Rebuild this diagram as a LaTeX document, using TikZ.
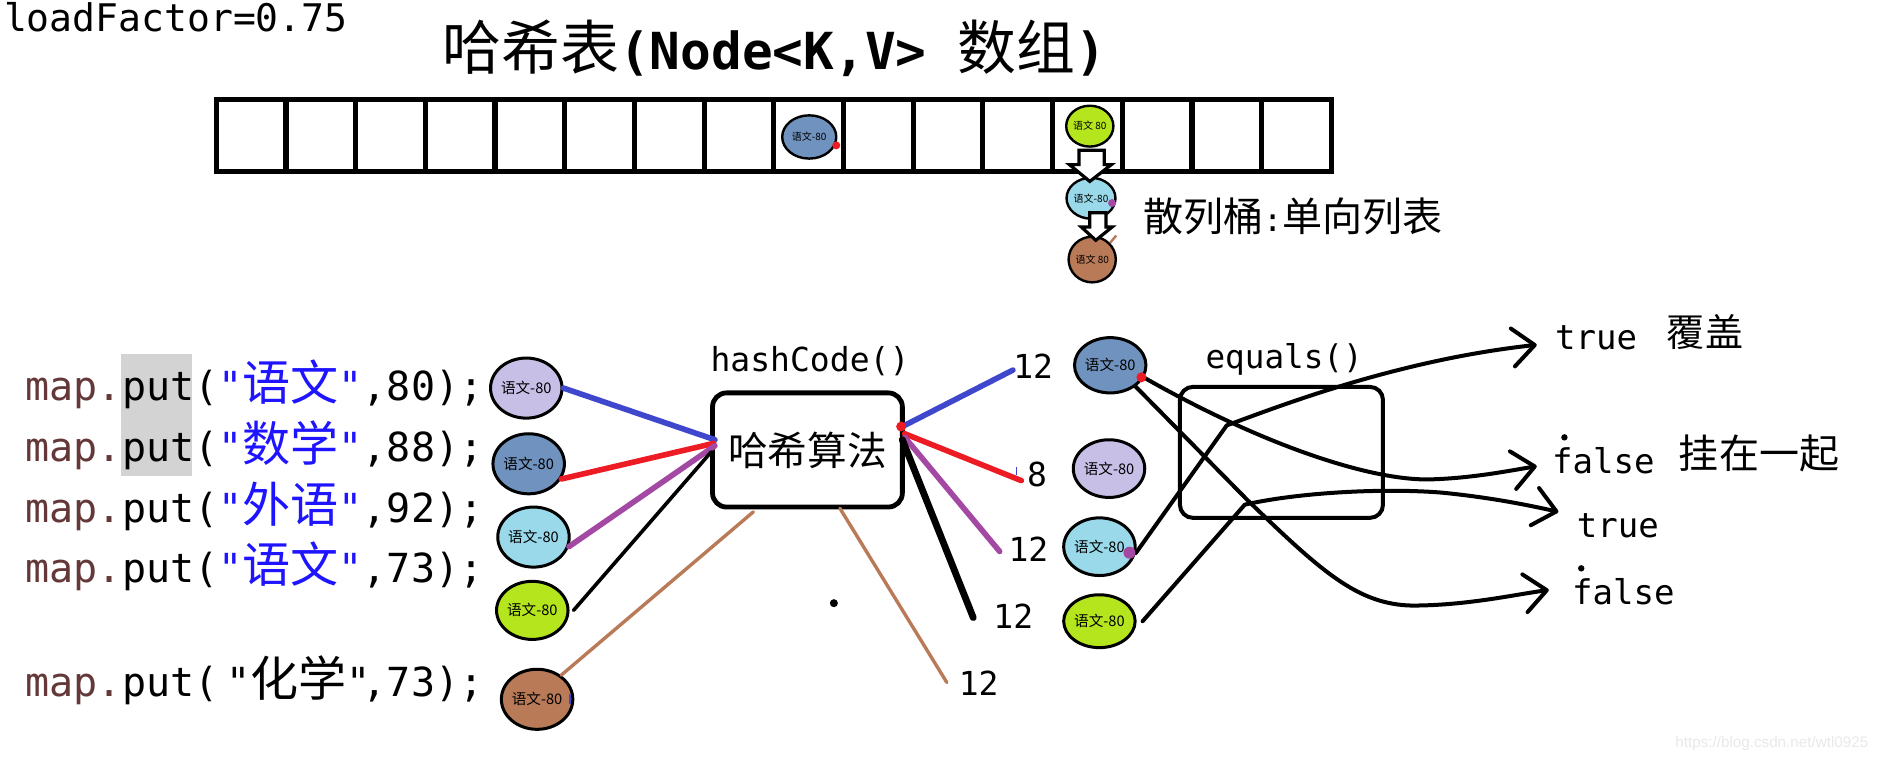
\documentclass[tikz,border=0pt]{standalone}
\usepackage{fontspec}
\usetikzlibrary{shapes.geometric,arrows.meta}
\newfontfamily\mono{DejaVu Sans Mono}
\newfontfamily\cjk{Noto Sans CJK SC}
\newfontfamily\wmfont{Liberation Sans}
\newcommand\setfs[1]{\fontsize{#1}{#1}\selectfont}
\definecolor{lav}{RGB}{200,191,231}
\definecolor{steel}{RGB}{112,146,190}
\definecolor{turq}{RGB}{153,217,234}
\definecolor{limeC}{RGB}{181,230,29}
\definecolor{brownC}{RGB}{185,122,87}
\definecolor{blueL}{RGB}{63,72,204}
\definecolor{redL}{RGB}{237,28,36}
\definecolor{purpleL}{RGB}{163,73,164}
\definecolor{mapc}{RGB}{100,56,56}
\definecolor{qblue}{RGB}{30,20,255}
\definecolor{hl}{RGB}{211,211,211}
\definecolor{wm}{RGB}{232,232,232}
\begin{document}
\begin{tikzpicture}[x=0.6pt,y=-0.6pt,
  txt/.style={inner sep=0pt, anchor=base west},
  ball/.style={ellipse, draw, line width=1.5pt, inner sep=0pt, font=\cjk\setfs{7.3}},
  sball/.style={ellipse, draw, line width=1.2pt, inner sep=0pt, font=\cjk\setfs{5}},
  cell/.style={draw, line width=2.6pt, minimum width=34.8pt, minimum height=36pt, inner sep=0pt},
  lk/.style={line cap=round},
  barrow/.style={line width=2pt, line cap=round, line join=round, -{Straight Barb[length=11pt,width=19pt,round]}},
  hollow/.style={draw, line width=1.6pt, fill=white, line join=miter}
]
\useasboundingbox (0,0) rectangle (1568,633);

% ---- top texts
\node[txt] (lf) at (3,26.4) {\mono\setfs{19}loadFactor=0.75};
\node[txt] (title) at (368,58) {{\cjk\setfs{29.4}哈希表}{\mono\bfseries\setfs{25.5}(Node<K,V> }{\cjk\setfs{29.4}数组}{\mono\bfseries\setfs{25.5})}};

% ---- array of 16 cells
\foreach \i in {0,...,15} {
  \node[cell] (a\i) at ({180+58*\i+29},113) {};
}
\node[sball, fill=steel, minimum width=27pt, minimum height=21.6pt] (t1) at (673.5,114) {语文-80};
\fill[redL] (696,121) circle[radius=2pt];

% ---- bucket
\node[sball, fill=limeC, minimum width=22.8pt, minimum height=20.4pt] (t2) at (907,105) {语文 80};
\node[sball, fill=turq, minimum width=23.4pt, minimum height=20.4pt] (t3) at (908,165) {语文-80};
\node[sball, fill=brownC, minimum width=22.2pt, minimum height=22.8pt] (t4) at (909,216) {语文 80};
\fill[purpleL] (925.5,169) circle[radius=2pt];
\draw[brownC, line width=1.2pt] (924,202) -- (929,196);
\draw[hollow] (898,125) -- (919,125) -- (919,137) -- (925,137) -- (907,151) -- (890,137) -- (898,137) -- cycle;
\draw[hollow] (907,177) -- (920.5,177) -- (920.5,189) -- (925.5,189) -- (912,200) -- (900,189) -- (907,189) -- cycle;
\node[txt] (bucket) at (951,193) {{\cjk\setfs{20}散列桶}{\mono\setfs{16}:}{\cjk\setfs{20}单向列表}};

% ---- map.put lines
\fill[hl] (101,295) rectangle (160,396);
\node[txt] (m1) at (21,333) {\mono\setfs{20}\textcolor{mapc}{map.}put(\textcolor{qblue}{"{\cjk\setfs{24}语文}"},80);};
\node[txt] (m2) at (21,384) {\mono\setfs{20}\textcolor{mapc}{map.}put(\textcolor{qblue}{"{\cjk\setfs{24}数学}"},88);};
\node[txt] (m3) at (21,435) {\mono\setfs{20}\textcolor{mapc}{map.}put(\textcolor{qblue}{"{\cjk\setfs{24}外语}"},92);};
\node[txt] (m4) at (21,485) {\mono\setfs{20}\textcolor{mapc}{map.}put(\textcolor{qblue}{"{\cjk\setfs{24}语文}"},73);};
\node[txt] (m5) at (21,580) {\mono\setfs{20}\textcolor{mapc}{map.}put(\hspace{4pt}"{\cjk\setfs{24}化学}"\hspace{-4pt},73);};

% ---- left circles
\node[ball, fill=lav, minimum width=32.4pt, minimum height=30pt] (c1) at (438,323) {语文-80};
\node[ball, fill=steel, minimum width=32.4pt, minimum height=30pt] (c2) at (440,386) {语文-80};
\node[ball, fill=turq, minimum width=32.4pt, minimum height=30pt] (c3) at (444,447) {语文-80};
\node[ball, fill=limeC, minimum width=32.4pt, minimum height=29pt] (c4) at (443,508) {语文-80};
\node[ball, fill=brownC, minimum width=32.4pt, minimum height=30pt] (c5) at (447,582) {语文-80};
\draw[blueL, line width=1pt] (474,578) -- (474,586);

% ---- hash box
\node[txt, anchor=base west] (hc) at (591,309) {\mono\setfs{16.5}hashCode()};
\node[draw, line width=2.4pt, rounded corners=7pt, minimum width=94.8pt, minimum height=57pt, inner sep=0pt, font=\cjk\setfs{19.8}] (hash) at (672,374.5) {哈希算法};

\coordinate (hLb) at (595,366);
\coordinate (hLr) at (594,369);
\coordinate (hLp) at (595,371);
\coordinate (hLk) at (592,376);
\coordinate (hLn) at (627,426);
\coordinate (hRb) at (751,355);
\coordinate (hRr) at (753,361);
\coordinate (hRp) at (753,364);
\coordinate (hRk) at (751,366);
\coordinate (hRn) at (699,423);
\coordinate (eb) at (843,308);
\coordinate (er) at (850,400);
\coordinate (ep) at (832,459);
\coordinate (ek) at (810,514);
\coordinate (en) at (788,568);

\draw[lk, blueL, line width=2.8pt] (c1.east) -- (hLb);
\draw[lk, redL, line width=2.8pt] (c2.-25) -- (hLr);
\draw[lk, purpleL, line width=2.8pt] (c3.-15) -- (hLp);
\draw[lk, black, line width=1.8pt] ([xshift=2pt]c4.east) -- (hLk);
\draw[lk, brownC, line width=1.7pt] (c5.45) -- (hLn);

\draw[lk, blueL, line width=2.8pt] (hRb) -- (eb);
\draw[lk, redL, line width=2.8pt] (hRr) -- (er);
\draw[lk, purpleL, line width=2.8pt] (hRp) -- (ep);
\draw[lk, black, line width=3.4pt] (hRk) -- (ek);
\draw[lk, brownC, line width=1.7pt] (hRn) -- (en);
\fill[redL] (750,355) circle[radius=2.5pt];
\draw[blueL, line width=0.8pt] (846,389) -- (846,395);
\fill (694,502) circle[radius=2pt];

\node[txt] (n1) at (843,315) {\mono\setfs{16.5}12};
\node[txt] (n2) at (854.5,405) {\mono\setfs{16.5}8};
\node[txt] (n3) at (839,467.5) {\mono\setfs{16.5}12};
\node[txt] (n4) at (826.5,523) {\mono\setfs{16.5}12};
\node[txt] (n5) at (797.6,578.5) {\mono\setfs{16.5}12};

% ---- right circles and equals
\node[ball, fill=steel, minimum width=33pt, minimum height=27.6pt] (r1) at (924,304) {语文-80};
\node[ball, fill=lav, minimum width=32.4pt, minimum height=28.8pt] (r2) at (923,390) {语文-80};
\node[ball, fill=turq, minimum width=32.4pt, minimum height=28.8pt] (r3) at (915,455) {语文-80};
\node[ball, fill=limeC, minimum width=32.4pt, minimum height=26.4pt] (r4) at (915,517) {语文-80};

\node[txt] (eq) at (1003,306.5) {\mono\setfs{16.3}equals()};
\node[draw, line width=2pt, rounded corners=6.5pt, minimum width=101.4pt, minimum height=65.4pt, inner sep=0pt] (eqbox) at (1066.5,376.5) {};

\coordinate (tA) at (1279,388);
\coordinate (tB) at (1289,491);
\coordinate (tC) at (1279,287);
\coordinate (tD) at (1297,426);

\draw[barrow] (r1.-20) .. controls (1050,370) and (1140,400) .. (1190,399) .. controls (1225,398) and (1255,392) .. (tA);
\draw[barrow] (r1.-40) -- (1038,416) .. controls (1100,476) and (1130,503) .. (1175,504) .. controls (1220,504) and (1260,495) .. (tB);
\draw[barrow] (r3.-10) -- (1021,354) .. controls (1060,340) and (1160,300) .. (tC);
\draw[barrow] ([xshift=3pt]r4.east) -- (1036,420) .. controls (1080,410) and (1150,406) .. (1200,410) .. controls (1240,414) and (1270,420) .. (tD);
\fill[redL] (950,314) circle[radius=2.5pt];
\fill[purpleL] (940,460) circle[radius=3pt];

\node[txt] (tr1) at (1294,291) {\mono\setfs{17}true};
\node[txt] (cov) at (1387,288) {\cjk\setfs{19}覆盖};
\node[txt] (fa1) at (1291.5,394) {\mono\setfs{17}false};
\node[txt] (hang) at (1397,390) {\cjk\setfs{20}挂在一起};
\node[txt] (tr2) at (1312,447) {\mono\setfs{17}true};
\node[txt] (fa2) at (1308,503.5) {\mono\setfs{17}false};
\fill (1302,364) circle[radius=1.6pt];
\fill (1316,473) circle[radius=1.6pt];

\node[txt, text=wm] (wmk) at (1394,622) {\wmfont\setfs{7.6}https://blog.csdn.net/wtl0925};
\end{tikzpicture}
\end{document}
